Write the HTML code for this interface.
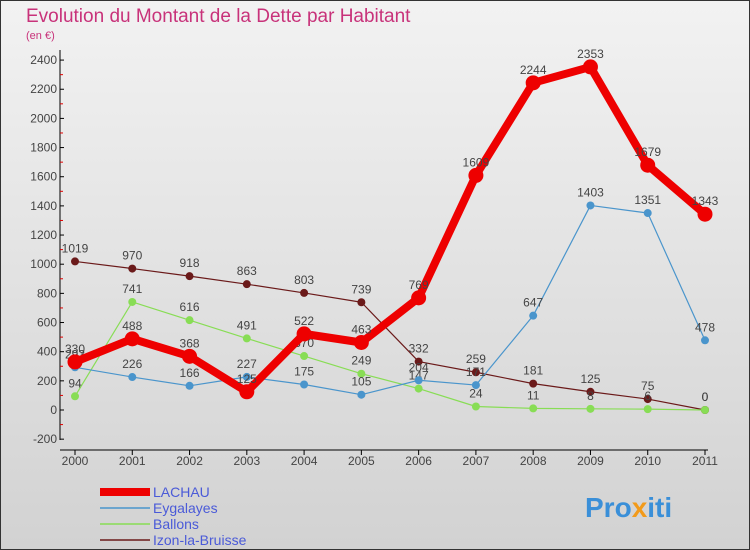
<!DOCTYPE html>
<html><head><meta charset="utf-8"><style>
body{margin:0}
svg{display:block;font-family:"Liberation Sans",sans-serif}
</style></head><body>
<svg id="c" width="750" height="550">
<defs><linearGradient id="bg" x1="0" y1="0" x2="0" y2="1"><stop offset="0" stop-color="#f2f2f2"/><stop offset="1" stop-color="#d2d2d2"/></linearGradient></defs>
<rect x="0.5" y="0.5" width="749" height="549" fill="url(#bg)" stroke="#333"/>
<text x="26" y="22" font-size="19" fill="#c8327a">Evolution du Montant de la Dette par Habitant</text>
<text x="26" y="39" font-size="11" fill="#c8327a">(en €)</text>
<g id="axes"></g><g id="series"></g><g id="legend"></g>
<text x="585" y="517" font-size="28" font-weight="bold" fill="#3a8fd8">Pro<tspan fill="#f29a1a">x</tspan>iti</text>
</svg>
<script>
const years=[2000,2001,2002,2003,2004,2005,2006,2007,2008,2009,2010,2011];
const yTicks=[-200,0,200,400,600,800,1000,1200,1400,1600,1800,2000,2200,2400];
const lachau=[330,488,368,125,522,463,769,1609,2244,2353,1679,1343];
const eygalayes=[293,226,166,227,175,105,204,171,647,1403,1351,478];
const ballons=[94,741,616,491,370,249,147,24,11,8,6,0];
const izon=[1019,970,918,863,803,739,332,259,181,125,75,0];
const NS="http://www.w3.org/2000/svg";
const X=i=>75+i*(630/11);
const Y=v=>410-v*0.1458;
function mk(t,a,p){const e=document.createElementNS(NS,t);for(const k in a)e.setAttribute(k,a[k]);p.appendChild(e);return e;}
const ax=document.getElementById('axes');
let l=mk('line',{x1:60,y1:50,x2:60,y2:440,stroke:'#000'},ax);


l=mk('line',{x1:60,y1:450,x2:708,y2:450,stroke:'#000'},ax);


yTicks.forEach(v=>{
  mk('line',{x1:60,y1:Y(v),x2:64,y2:Y(v),stroke:'#000'},ax);
  if(v<2400) mk('line',{x1:60,y1:Y(v+100),x2:63,y2:Y(v+100),stroke:'#d00'},ax);
  const t=mk('text',{x:57,y:Y(v)+4,'font-size':12,'text-anchor':'end',fill:'#444'},ax);
  t.textContent=v;
  
  
});
years.forEach((yr,i)=>{
  mk('line',{x1:X(i),y1:450,x2:X(i),y2:455,stroke:'#000'},ax);
  const t=mk('text',{x:X(i),y:465,'font-size':12,'text-anchor':'middle',fill:'#444'},ax);
  t.textContent=yr;
  
  
});
const sg=document.getElementById('series');
const series=[
 {n:'Izon-la-Bruisse',d:izon,c:'#6b1a1a',w:1.2,r:4},
 {n:'Ballons',d:ballons,c:'#88dd55',w:1.2,r:4},
 {n:'Eygalayes',d:eygalayes,c:'#4a95cc',w:1.2,r:4},
 {n:'LACHAU',d:lachau,c:'#ee0000',w:8,r:7.5}
];
series.forEach(s=>{
  const g=mk('g',{},sg);
  
  
  const p=mk('polyline',{points:s.d.map((v,i)=>X(i)+','+Y(v)).join(' '),fill:'none',stroke:s.c,'stroke-width':s.w,'stroke-linejoin':'round'},g);
  
  
  s.d.forEach((v,i)=>{
    const c=mk('circle',{cx:X(i),cy:Y(v),r:s.r,fill:s.c},g);
    
    
    const t=mk('text',{x:X(i),y:Y(v)-9,'font-size':12,'text-anchor':'middle',fill:'#444'},g);
    t.textContent=v;
    
    
  });
});
const lg=document.getElementById('legend');
[['LACHAU','#ee0000',8],['Eygalayes','#4a95cc',1.5],['Ballons','#88dd55',1.5],['Izon-la-Bruisse','#6b1a1a',1.5]].forEach((e,i)=>{
  const y=492+i*16;
  const g=mk('g',{},lg);
  
  
  mk('line',{x1:100,y1:y,x2:150,y2:y,stroke:e[1],'stroke-width':e[2]},g);
  const t=mk('text',{x:153,y:y+5,'font-size':14,fill:'#4a5ad8'},g);
  t.textContent=e[0];
});
</script>
</body></html>
